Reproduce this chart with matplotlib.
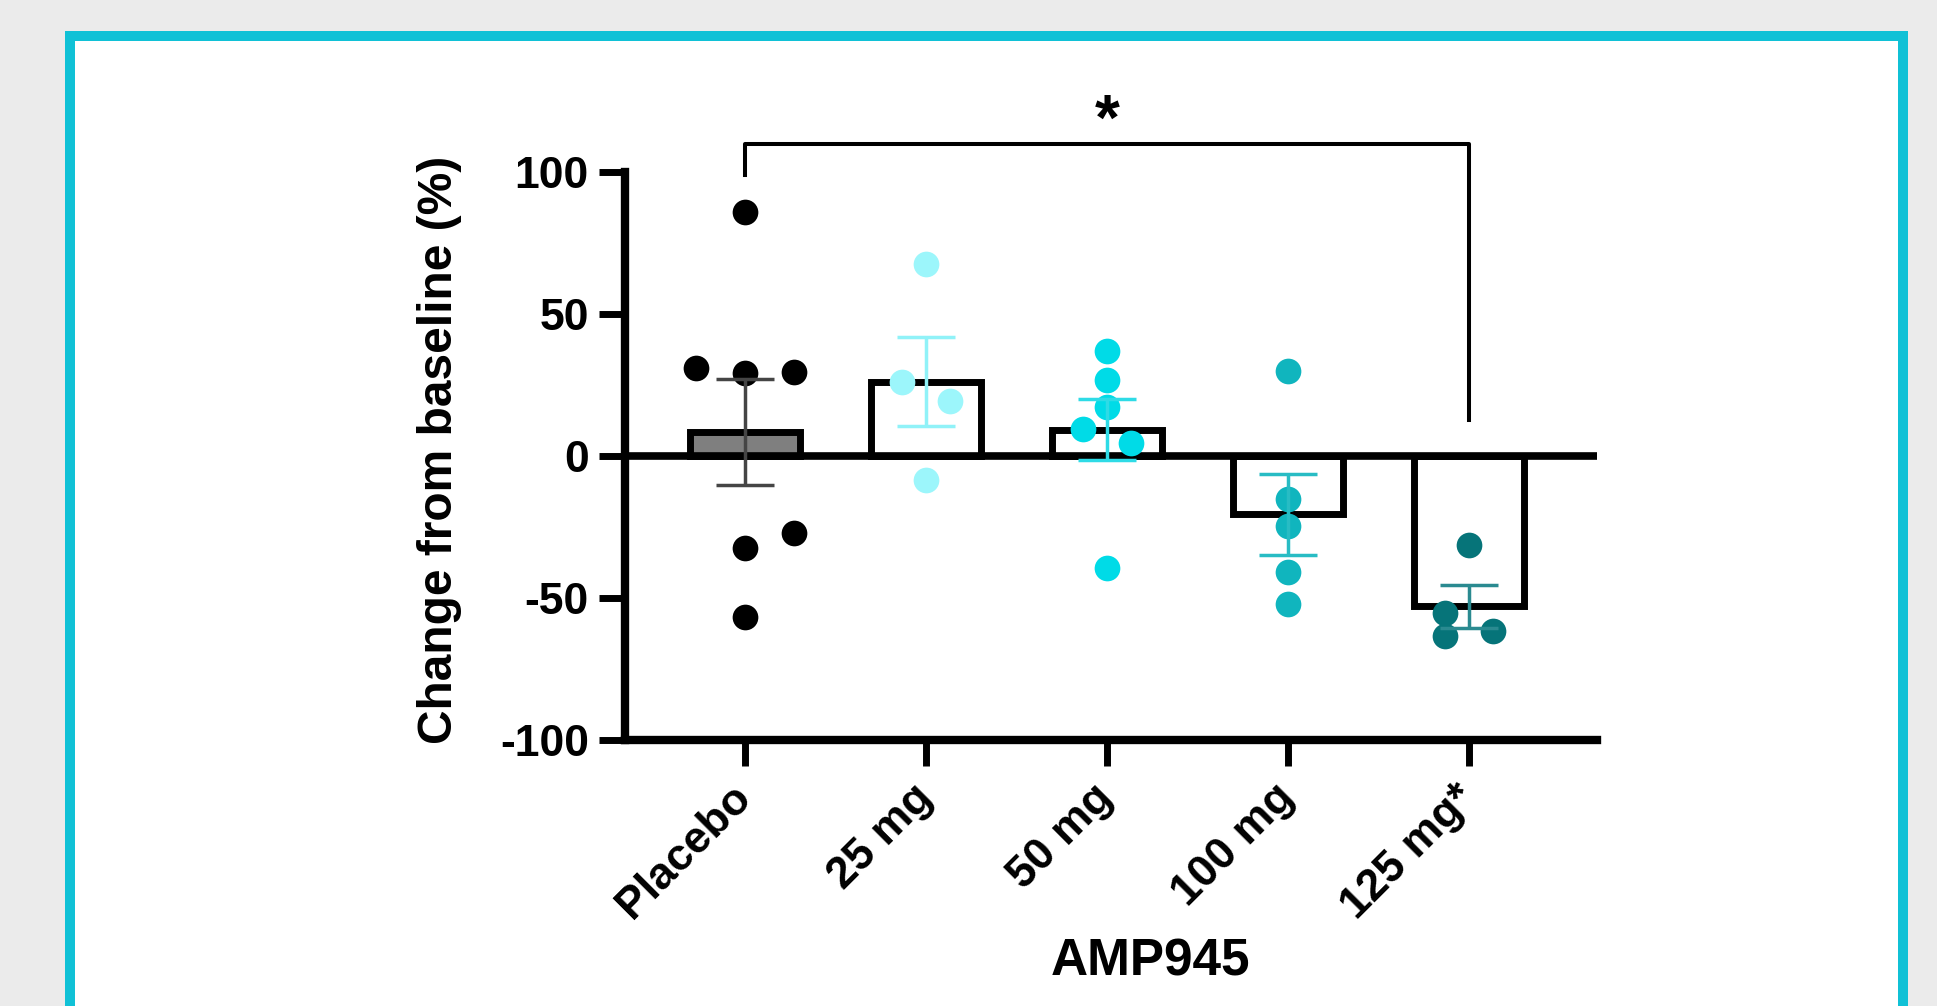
import numpy as np
import matplotlib
matplotlib.use("Agg")
import matplotlib.pyplot as plt
from matplotlib.patches import Rectangle

plt.rcParams['font.family'] = ['Liberation Sans', 'DejaVu Sans']
plt.rcParams['font.weight'] = 'bold'
plt.rcParams['axes.unicode_minus'] = False

# groups and individual patient values (% change from baseline)
groups = ["Placebo", "25 mg", "50 mg", "100 mg", "125 mg*"]
placebo = [85.8, 31.0, 29.3, 29.7, -32.5, -27.2, -56.7]
dose_25 = [67.7, 26.2, 19.2, -8.5]
dose_50 = [36.8, 26.6, 17.4, 9.4, 4.7, -39.3]
dose_100 = [30.1, -15.3, -24.7, -40.8, -52.0]
dose_125 = [-31.2, -55.4, -63.5, -61.7]
values = [placebo, dose_25, dose_50, dose_100, dose_125]

# scatter slots (side-by-side placement of overlapping dots)
slots = [[0, -2, 0, 2, 0, 2, 0],
         [0, -1, 1, 0],
         [0, 0, 0, -1, 1, 0],
         [0, 0, 0, 0, 0],
         [0, -1, -1, 1]]
slot_step = 0.135

dot_colors = ["#000000", "#9cf6fb", "#00dbe7", "#10b5be", "#067479"]
err_colors = ["#454545", "#90f2f8", "#2edbe6", "#28bcc4", "#2a8a90"]
bar_fill = ["#7f7f7f", "white", "white", "white", "white"]

means = [np.mean(v) for v in values]
sems = [np.std(v, ddof=1) / np.sqrt(len(v)) for v in values]

fig = plt.figure(figsize=(19.37, 10.06), dpi=100, facecolor="#ebebeb")

# white panel with cyan frame
W, H = 1937, 1006
frame = Rectangle((70 / W, -0.1), (1902.5 - 70) / W, 1.1 - 36 / H,
                  transform=fig.transFigure, facecolor="white",
                  edgecolor="#10c1d6", linewidth=7.2, zorder=0)
fig.add_artist(frame)

ax = fig.add_axes([625 / W, (H - 740) / H, 972 / W, 568 / H])
ax.set_facecolor("none")

x = np.arange(len(groups))

# bars
ax.bar(x, means, width=0.61, color=bar_fill, edgecolor="black",
       linewidth=5, zorder=2)

# zero line
ax.axhline(0, color="black", linewidth=5.5, zorder=2.5)

# dots
for i, v in enumerate(values):
    xs = i + np.array(slots[i]) * slot_step
    ax.plot(xs, v, 'o', color=dot_colors[i], markersize=18.5,
            markeredgewidth=0, zorder=3)

# mean +/- SEM
for i in range(len(groups)):
    ax.errorbar(x[i], means[i], yerr=sems[i], color=err_colors[i],
                elinewidth=2.5, capsize=21, capthick=2.5, zorder=4)

ax.set_xlim(-0.663, 4.707)
ax.set_ylim(-100, 100)
ax.set_yticks([-100, -50, 0, 50, 100])
ax.set_xticks(x)
ax.set_xticklabels(groups, rotation=45, ha="right", va="center",
                   rotation_mode="anchor")

for s in ["top", "right"]:
    ax.spines[s].set_visible(False)
for s in ["left", "bottom"]:
    ax.spines[s].set_linewidth(6)
    ax.spines[s].set_capstyle("projecting")

ax.tick_params(axis="both", length=19, width=5, labelsize=32, pad=7)
ax.tick_params(axis="x", pad=18)

ax.set_ylabel("Change from baseline (%)", fontsize=34.5, fontweight="bold")
ax.yaxis.set_label_coords(-0.168, 0.51)
ax.set_xlabel("AMP945", fontsize=37, fontweight="bold")
ax.xaxis.label.set_va("center")
ax.xaxis.set_label_coords(0.541, -0.39)

# significance bracket
ax.plot([0, 0, 4, 4], [99, 110, 110, 12.7], color="black", linewidth=2.9,
        clip_on=False, zorder=5)
ax.text(2, 117.5, "*", fontsize=46, fontweight="bold", ha="center",
        va="center", clip_on=False)

fig.savefig("out.png", dpi=100, facecolor=fig.get_facecolor())
